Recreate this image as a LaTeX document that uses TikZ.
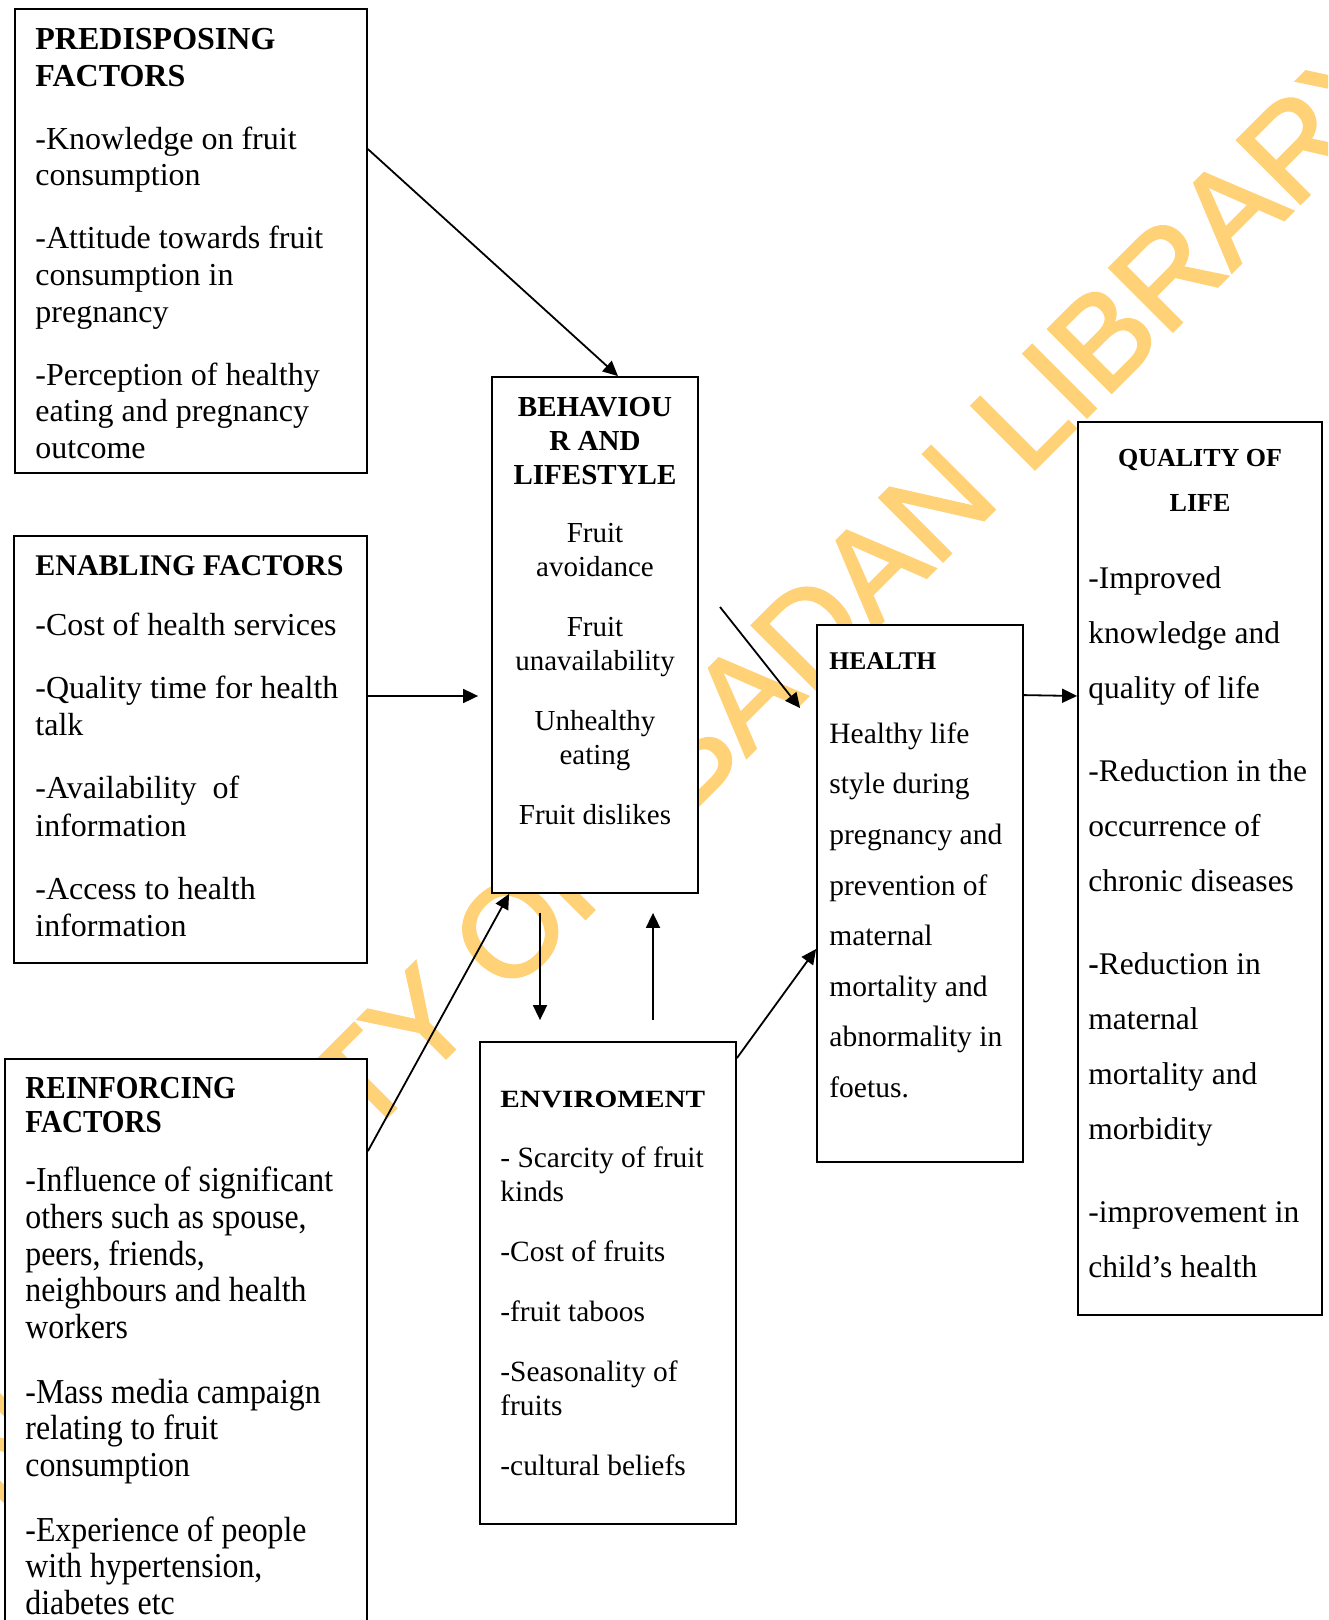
\documentclass[tikz,border=0pt]{standalone}
\usepackage{fontspec}
\setmainfont{Liberation Serif}
\newfontfamily\narrowserif[FakeStretch=0.91]{Liberation Serif}
\newfontfamily\wideserif[FakeStretch=1.18]{Liberation Serif}
\newfontfamily\wmfont[FakeBold=2]{Liberation Sans}
\usetikzlibrary{arrows.meta,calc}
\definecolor{wmorange}{RGB}{255,210,120}
\tikzset{
  box/.style={draw, line width=0.9pt, fill=white, inner sep=0pt, rectangle},
  txt/.style={inner sep=0pt, align=left, anchor=north west},
  ctxt/.style={inner sep=0pt, align=center, anchor=north},
  arr/.style={-{Triangle[length=7.5pt,width=7pt]}, line width=0.9pt},
}
\begin{document}
\begin{tikzpicture}[x=0.5pt,y=-0.5pt]
  \useasboundingbox (0,0) rectangle (1328,1620);
  \clip (0,0) rectangle (1328,1620);
  \fill[white] (0,0) rectangle (1328,1620);

  \node[wmorange, inner sep=0pt, rotate=45, anchor=base west, font=\wmfont\fontsize{65}{78}\selectfont] (wm) at (-71,1575) {UNIVERSITY OF IBADAN LIBRARY};

  \node[box, minimum width=176pt, minimum height=232pt] (pred) at (191,241) {};
  \node[box, minimum width=176.5pt, minimum height=213.5pt] (enab) at (190.5,749.5) {};
  \node[box, minimum width=181pt, minimum height=321pt] (reinf) at (186,1380) {};
  \node[box, minimum width=103pt, minimum height=258pt] (beh) at (595,635) {};
  \node[box, minimum width=128pt, minimum height=241pt] (env) at (608,1283) {};
  \node[box, minimum width=103pt, minimum height=268.5pt] (health) at (920,893.5) {};
  \node[box, minimum width=122pt, minimum height=446.5pt] (qual) at (1200,868.5) {};

  \node[txt, font=\fontsize{16}{18.4}\selectfont] (predtxt) at (35,28) {\textbf{PREDISPOSING}\\\textbf{FACTORS}\\[13pt]-Knowledge on fruit\\consumption\\[13pt]-Attitude towards fruit\\consumption in\\pregnancy\\[13pt]-Perception of healthy\\eating and pregnancy\\outcome};
  \node[txt, font=\fontsize{16}{18.75}\selectfont] (enabtxt) at (35,555) {{\fontsize{15}{18.75}\selectfont\bfseries ENABLING FACTORS}\\[11.25pt]-Cost of health services\\[12.75pt]-Quality time for health\\talk\\[12.75pt]-Availability~ of\\information\\[12.75pt]-Access to health\\information};
  \node[txt, font=\narrowserif\fontsize{17.5}{18.35}\selectfont] (reinftxt) at (25,1077) {{\fontsize{16}{18.35}\selectfont\bfseries REINFORCING}\\[-1.35pt]{\fontsize{16}{18.35}\selectfont\bfseries FACTORS}\\[11.15pt]-Influence of significant\\others such as spouse,\\peers, friends,\\neighbours and health\\workers\\[14pt]-Mass media campaign\\relating to fruit\\consumption\\[14pt]-Experience of people\\with hypertension,\\diabetes etc};
  \node[ctxt, font=\fontsize{14.5}{17}\selectfont] (behtxt) at (595,397) {\textbf{BEHAVIOU}\\\textbf{R AND}\\\textbf{LIFESTYLE}\\[12pt]Fruit\\avoidance\\[13pt]Fruit\\unavailability\\[13pt]Unhealthy\\eating\\[13pt]Fruit dislikes};
  \node[txt, font=\fontsize{14.7}{17}\selectfont] (envtxt) at (500,1091) {{\wideserif\fontsize{12.4}{17}\selectfont\bfseries ENVIROMENT}\\[13pt]- Scarcity of fruit\\kinds\\[13pt]-Cost of fruits\\[13pt]-fruit taboos\\[13pt]-Seasonality of\\fruits\\[13pt]-cultural beliefs};
  \node[txt, font=\fontsize{14.75}{25.3}\selectfont] (healthtxt) at (829,652) {{\fontsize{12.75}{25.3}\selectfont\bfseries HEALTH}\\[11.7pt]Healthy life\\style during\\pregnancy and\\prevention of\\maternal\\mortality and\\abnormality in\\foetus.};
  \node[ctxt, font=\fontsize{13}{22.5}\selectfont\bfseries] (qualhead) at (1200,449) {QUALITY OF\\LIFE};
  \node[txt, font=\fontsize{15.75}{27.5}\selectfont] (qualtxt) at (1088,566) {-Improved\\knowledge and\\quality of life\\[14pt]-Reduction in the\\occurrence of\\chronic diseases\\[14pt]\textbf{-}Reduction in\\maternal\\mortality and\\morbidity\\[14pt]-improvement in\\child’s health};

  \coordinate (free) at (720,607);
  \draw[arr] ($(pred.north east)+(0,141)$) -- ($(beh.north)+(23,0)$);
  \draw[arr] ($(enab.east)+(0,-53.5)$) -- ($(beh.west)+(-13,61)$);
  \draw[arr] ($(reinf.north east)+(0,93)$) -- ($(beh.south west)+(18,0)$);
  \draw[arr] (free) -- ($(health.north west)+(-16,84)$);
  \draw[arr] ($(beh.south)+(-55,19)$) -- ($(env.north)+(-68,-21)$);
  \draw[arr] ($(env.north)+(45,-21)$) -- ($(beh.south)+(58,19)$);
  \draw[arr] ($(env.north east)+(0,17)$) -- ($(health.west)+(0,55.5)$);
  \draw[arr] ($(health.north east)+(0,71)$) -- ($(qual.west)+(0,-172.5)$);
\end{tikzpicture}
\end{document}
